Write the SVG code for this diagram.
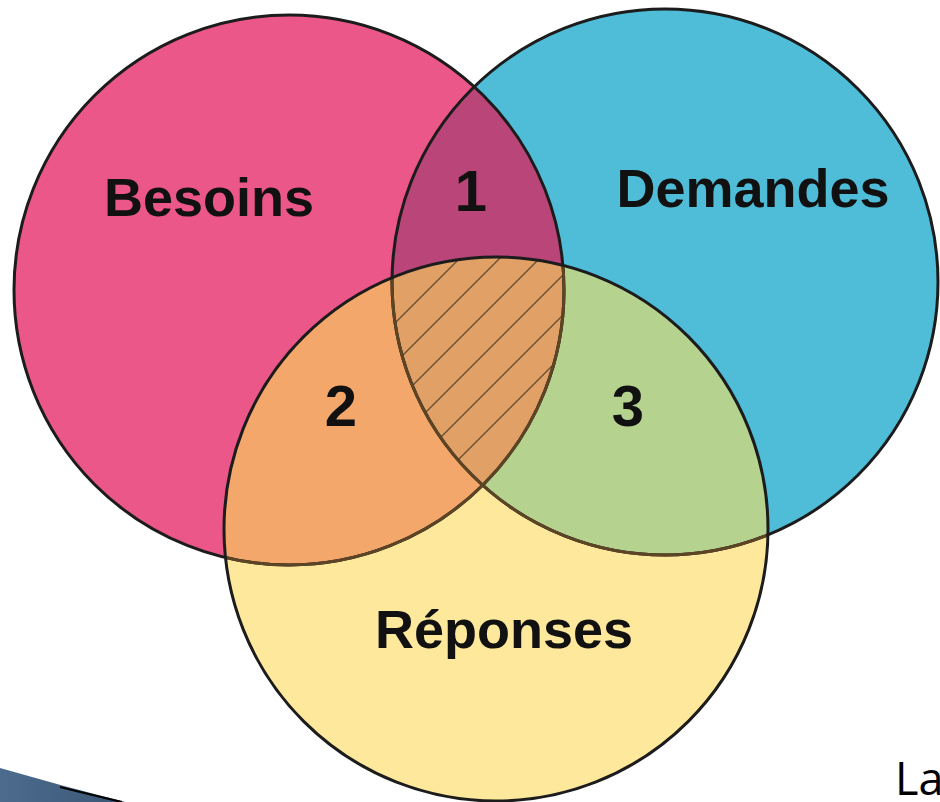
<svg xmlns="http://www.w3.org/2000/svg" width="940" height="802" viewBox="0 0 940 802">
  <style>
    .lbl { font-family: "Liberation Sans", Arial, sans-serif; font-weight: bold; font-size: 54px; fill: #111; text-anchor: middle; }
    .num { font-family: "Liberation Sans", Arial, sans-serif; font-weight: bold; font-size: 58px; fill: #111; text-anchor: middle; }
    .edge { fill: none; stroke: #1c1c1c; stroke-width: 3; }
    .edge-in { fill: none; stroke: #5c4424; stroke-width: 3; }
    .hatch { stroke: #6b5234; stroke-width: 1.4; }
  </style>
  <defs>
    <clipPath id="cp-pink"><circle cx="289" cy="290" r="275"/></clipPath>
    <clipPath id="cp-blue"><circle cx="665" cy="282" r="273"/></clipPath>
    <clipPath id="cp-yellow"><circle cx="496" cy="529" r="272"/></clipPath>
    <linearGradient id="swoosh" x1="0" y1="0" x2="1" y2="0">
      <stop offset="0" stop-color="#4c6c8e"/>
      <stop offset="1" stop-color="#3a5675"/>
    </linearGradient>
  </defs>
  <rect width="940" height="802" fill="#ffffff"/>

  <!-- decorative swoosh bottom-left -->
  <path d="M0,768 Q62,786 125,802 L0,802 Z" fill="url(#swoosh)"/>
  <path d="M60,787 Q92,795 122,802" fill="none" stroke="#000" stroke-width="2.2"/>

  <g id="node-besoins">
    <circle cx="289" cy="290" r="275" fill="#EB5788"/>
  </g>
  <g id="node-demandes">
    <circle cx="665" cy="282" r="273" fill="#4FBDD8"/>
  </g>
  <g id="node-reponses">
    <circle cx="496" cy="529" r="272" fill="#FDE89B"/>
  </g>

  <g id="overlaps">
    <g clip-path="url(#cp-pink)">
      <circle cx="665" cy="282" r="273" fill="#BA4579"/>
      <circle cx="496" cy="529" r="272" fill="#F4A76B"/>
    </g>
    <g clip-path="url(#cp-blue)">
      <circle cx="496" cy="529" r="272" fill="#B6D28F"/>
    </g>
    <g id="overlap-all" clip-path="url(#cp-pink)">
      <g clip-path="url(#cp-blue)">
        <g clip-path="url(#cp-yellow)">
          <rect x="380" y="250" width="200" height="250" fill="#E1A066"/>
          <g class="hatch">
            <line x1="218" y1="500" x2="468" y2="250"/>
            <line x1="258" y1="500" x2="508" y2="250"/>
            <line x1="298" y1="500" x2="548" y2="250"/>
            <line x1="338" y1="500" x2="588" y2="250"/>
            <line x1="378" y1="500" x2="628" y2="250"/>
            <line x1="418" y1="500" x2="668" y2="250"/>
          </g>
        </g>
      </g>
    </g>
  </g>

  <g id="outlines">
    <circle class="edge" cx="289" cy="290" r="275"/>
    <circle class="edge" cx="665" cy="282" r="273"/>
    <g clip-path="url(#cp-yellow)">
      <circle class="edge-in" cx="289" cy="290" r="275"/>
      <circle class="edge-in" cx="665" cy="282" r="273"/>
    </g>
    <circle class="edge" cx="496" cy="529" r="272"/>
  </g>

  <g id="labels">
    <text class="lbl" x="209" y="216">Besoins</text>
    <text class="lbl" x="753" y="207">Demandes</text>
    <text class="lbl" x="504" y="648">Réponses</text>
    <text class="num" x="471" y="211">1</text>
    <text class="num" x="341" y="426">2</text>
    <text class="num" x="628" y="426">3</text>
  </g>

  <text x="895" y="795" font-family="'Open Sans', 'DejaVu Sans', sans-serif" font-size="45" fill="#000">La</text>
</svg>
